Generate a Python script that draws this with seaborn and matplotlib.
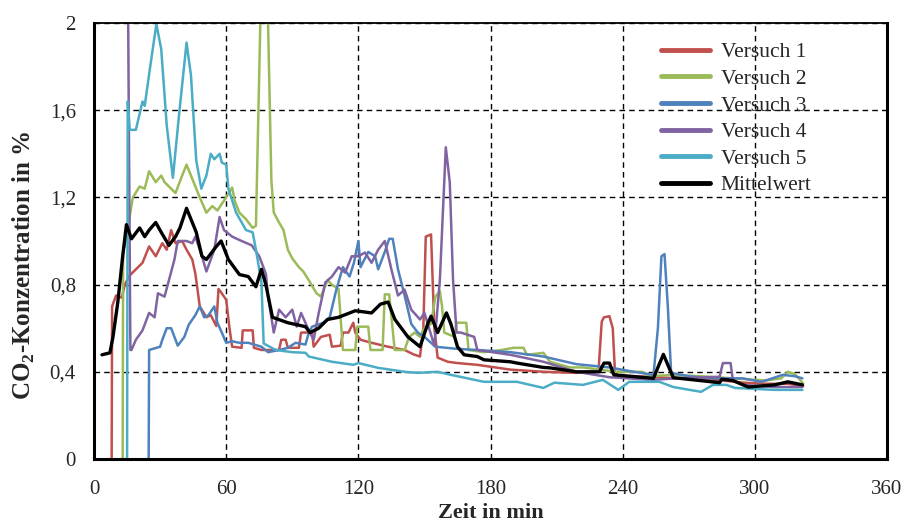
import numpy as np
import pandas as pd
import seaborn as sns
import matplotlib
matplotlib.use('Agg')
import matplotlib.pyplot as plt

# (time in min, CO2 in %)
t1 = [8, 8.2, 10, 12.6, 14, 16, 19, 22, 25, 28, 31, 33, 35, 37, 40, 42, 44.6, 46, 48, 51, 53, 55.5, 56.5, 58, 60,
      61.5, 62.7, 67, 67.5, 72, 72.6, 76, 80, 84, 85, 87, 88, 93, 94, 99, 99.7, 103, 107, 108, 112, 113, 115.5,
      117.7, 118.6, 121, 126, 133.5, 141, 145, 148, 149.5, 150.6, 153, 154.5, 156, 160.6, 165, 174, 189, 204, 219,
      229, 230.5, 231.5, 234, 235.5, 236.5, 238, 245, 255, 265, 275, 285, 295, 305, 315, 322]
v1 = [0.0, 0.70, 0.75, 0.74, 0.80, 0.84, 0.87, 0.90, 0.975, 0.93, 0.99, 0.96, 1.05, 0.99, 1.0, 0.96, 0.915, 0.85,
      0.70, 0.65, 0.66, 0.61, 0.78, 0.76, 0.73, 0.60, 0.515, 0.51, 0.59, 0.59, 0.51, 0.50, 0.50, 0.50, 0.547, 0.547,
      0.51, 0.51, 0.58, 0.58, 0.515, 0.56, 0.57, 0.515, 0.52, 0.58, 0.58, 0.625, 0.58, 0.547, 0.533, 0.515, 0.50,
      0.48, 0.47, 0.60, 1.02, 1.03, 0.60, 0.465, 0.446, 0.44, 0.432, 0.41, 0.40, 0.395, 0.40, 0.63, 0.65, 0.655,
      0.60, 0.40, 0.38, 0.38, 0.375, 0.37, 0.37, 0.36, 0.35, 0.345, 0.345, 0.335]

t2 = [13, 13.2, 14, 16, 17.6, 20.7, 23, 25, 28, 30.5, 32, 34, 37, 40, 42, 44, 46, 48, 51, 53.7, 56, 58, 60, 62.7,
      64, 66, 69, 72, 73.5, 75.5, 76.5, 78, 79, 80.5, 81.6, 84, 86, 88, 90, 93, 95, 97.5, 101, 103, 106, 108, 111,
      112, 113, 118.6, 119.5, 124.5, 125.5, 131, 132, 134, 136.5, 141, 143, 145.6, 148, 150, 153, 155, 157, 158,
      159, 163.7, 164.5, 169, 170, 177, 185, 190.5, 195, 196.5, 204, 207, 216, 222, 237, 249, 252, 262, 275, 290,
      305, 312, 315, 318, 320, 322]
v2 = [0.0, 0.95, 0.98, 1.10, 1.20, 1.25, 1.24, 1.32, 1.27, 1.30, 1.27, 1.25, 1.22, 1.30, 1.35, 1.30, 1.25, 1.20,
      1.13, 1.16, 1.14, 1.17, 1.20, 1.245, 1.18, 1.13, 1.10, 1.06, 1.07, 2.0, 2.15, 2.15, 2.0, 1.28, 1.13, 1.085,
      1.05, 0.96, 0.92, 0.88, 0.86, 0.82, 0.76, 0.745, 0.82, 0.80, 0.78, 0.64, 0.50, 0.50, 0.607, 0.607, 0.50, 0.50,
      0.755, 0.755, 0.50, 0.50, 0.56, 0.58, 0.56, 0.60, 0.62, 0.745, 0.77, 0.70, 0.58, 0.56, 0.625, 0.625, 0.50,
      0.49, 0.50, 0.51, 0.51, 0.478, 0.487, 0.446, 0.42, 0.42, 0.40, 0.40, 0.38, 0.385, 0.38, 0.37, 0.36, 0.37,
      0.40, 0.39, 0.37, 0.345]

t3 = [24.8, 25, 30, 31, 33, 35, 36.5, 38, 41, 43, 46, 48, 50, 52, 54.6, 56, 58, 60, 62.7, 66, 70, 76, 79, 84, 88,
      91.5, 96, 97.5, 99, 104, 107, 110, 113, 116, 118, 120, 121, 124.5, 127.6, 129, 132, 134, 135.6, 138, 141,
      144, 147, 150, 155, 165, 174, 189, 204, 219, 234, 245, 254, 256, 257.6, 259, 260.5, 262, 270, 279, 294.5,
      303, 308, 312.6, 318, 321.6]
v3 = [0.0, 0.50, 0.515, 0.547, 0.60, 0.60, 0.56, 0.52, 0.56, 0.616, 0.66, 0.70, 0.65, 0.66, 0.70, 0.625, 0.58,
      0.533, 0.54, 0.533, 0.533, 0.515, 0.49, 0.50, 0.51, 0.533, 0.525, 0.58, 0.607, 0.625, 0.65, 0.777, 0.88,
      0.837, 0.90, 1.0, 0.88, 0.95, 0.93, 0.87, 0.95, 1.01, 1.01, 0.87, 0.75, 0.62, 0.58, 0.56, 0.515, 0.505, 0.50,
      0.49, 0.47, 0.435, 0.42, 0.40, 0.386, 0.60, 0.93, 0.94, 0.70, 0.395, 0.38, 0.37, 0.37, 0.354, 0.37, 0.386,
      0.38, 0.37]

t4 = [15.3, 16.5, 17, 19, 22, 25, 27.5, 29, 32, 34, 36.5, 38, 42, 44.6, 46, 49, 51, 54.6, 57, 59, 62.7, 67, 71.6,
      75, 78, 79, 81.6, 84, 87, 90, 92, 94, 97.5, 99.7, 102, 105, 108, 111, 114, 117, 120, 123, 126, 129, 132, 135,
      138, 141, 144, 148, 150, 154.5, 157, 159.7, 161.5, 163, 164.6, 166.5, 172.6, 174, 189, 204, 219, 234, 254,
      264, 284, 285.5, 289, 290, 294.5, 309, 321.6]
v4 = [2.3, 0.50, 0.50, 0.547, 0.59, 0.67, 0.65, 0.76, 0.745, 0.82, 0.915, 1.0, 1.0, 0.99, 1.02, 0.93, 0.86, 0.96,
      1.11, 1.05, 1.02, 1.0, 0.98, 0.93, 0.85, 0.745, 0.58, 0.685, 0.65, 0.685, 0.607, 0.67, 0.59, 0.547, 0.67,
      0.81, 0.837, 0.88, 0.855, 0.93, 0.93, 0.947, 0.90, 0.96, 1.0, 0.87, 0.75, 0.777, 0.685, 0.64, 0.67, 0.52,
      0.82, 1.43, 1.27, 0.82, 0.58, 0.58, 0.56, 0.50, 0.478, 0.446, 0.40, 0.375, 0.363, 0.37, 0.377, 0.44, 0.44,
      0.363, 0.34, 0.33, 0.33]

t5 = [15, 15.3, 16.2, 19, 22, 23, 25.5, 28.3, 30.5, 33, 35.8, 38.8, 42, 44, 46.4, 48.7, 51, 53, 54.6, 57, 58, 60,
      61, 64.5, 69, 72, 73.5, 76, 77, 82.5, 90, 96, 97.5, 108, 117.7, 120, 129, 141, 147, 156, 162, 177, 192, 204,
      209, 222, 231, 238, 243, 256.7, 263, 275.6, 281, 287, 291, 309, 321.6]
v5 = [0.0, 1.64, 1.51, 1.51, 1.64, 1.62, 1.80, 1.995, 1.88, 1.53, 1.29, 1.60, 1.91, 1.76, 1.37, 1.24, 1.30, 1.40,
      1.375, 1.40, 1.36, 1.35, 1.24, 1.13, 1.05, 1.04, 0.96, 0.81, 0.53, 0.50, 0.49, 0.487, 0.47, 0.446, 0.432,
      0.44, 0.418, 0.40, 0.395, 0.40, 0.386, 0.354, 0.354, 0.326, 0.35, 0.34, 0.363, 0.317, 0.354, 0.354, 0.33,
      0.308, 0.34, 0.34, 0.326, 0.317, 0.317]

tm = [3.6, 7.2, 8.6, 10.8, 13, 14.7, 17, 20.7, 23, 25, 28, 30.5, 34, 37, 39, 42, 44, 46.4, 49, 51, 55.5, 57.7, 61,
      66, 70, 73.5, 76, 78, 81, 88, 96, 98, 102, 106, 111, 118.6, 126, 130, 133.5, 136.6, 142.5, 148, 151.5, 153,
      156, 160, 162, 165, 168, 174, 177, 189, 192, 204, 207, 219, 229.5, 231.5, 234, 236, 254, 256, 258.5, 261,
      263, 284, 285, 290, 297, 309, 315, 321.6]
vm = [0.478, 0.487, 0.56, 0.72, 0.93, 1.075, 1.01, 1.06, 1.02, 1.05, 1.085, 1.04, 0.98, 1.02, 1.06, 1.15, 1.10,
      1.04, 0.93, 0.915, 0.975, 1.0, 0.915, 0.846, 0.837, 0.79, 0.87, 0.80, 0.65, 0.625, 0.607, 0.58, 0.60, 0.64,
      0.65, 0.68, 0.67, 0.71, 0.72, 0.64, 0.56, 0.515, 0.62, 0.655, 0.58, 0.67, 0.62, 0.515, 0.478, 0.47, 0.455,
      0.446, 0.44, 0.42, 0.418, 0.40, 0.40, 0.44, 0.44, 0.386, 0.37, 0.42, 0.48, 0.42, 0.373, 0.35, 0.366, 0.36,
      0.33, 0.34, 0.354, 0.34]

labels = ['Versuch 1', 'Versuch 2', 'Versuch 3', 'Versuch 4', 'Versuch 5', 'Mittelwert']
colors = ['#c0504d', '#9bbb59', '#4f81bd', '#8064a2', '#4bacc6', '#000000']
x_ticks = [0, 60, 120, 180, 240, 300, 360]
y_ticks = [0, 0.4, 0.8, 1.2, 1.6, 2.0]
y_ticklabels = ['0', '0,4', '0,8', '1,2', '1,6', '2']

sns.set_style('white')
plt.rcParams['font.family'] = ['Liberation Serif', 'DejaVu Serif']
plt.rcParams['mathtext.fontset'] = 'custom'
plt.rcParams['mathtext.rm'] = 'Liberation Serif'
plt.rcParams['mathtext.bf'] = 'Liberation Serif:bold'

fig = plt.figure(figsize=(9.06, 5.23), dpi=100)
ax = fig.add_axes([0.1038, 0.1224, 0.8752, 0.8336])

series = [(t1, v1), (t2, v2), (t3, v3), (t4, v4), (t5, v5), (tm, vm)]
for (t, v), lab, col in zip(series, labels, colors):
    df = pd.DataFrame({'t': t, 'v': v})
    lw = 2.4 if lab == 'Mittelwert' else 1.8
    sns.lineplot(data=df, x='t', y='v', ax=ax, estimator=None, sort=False,
                 color=col, lw=lw, label=lab)

ax.set_xlim(0, 360)
ax.set_ylim(0, 2)
ax.set_xticks(x_ticks)
ax.set_yticks(y_ticks)
ax.set_yticklabels(y_ticklabels)
ax.tick_params(labelsize=15, length=0, pad=13)
ax.tick_params(axis='x', pad=15)
ax.grid(True, color='black', linestyle=(0, (4, 3)), linewidth=1.0)
for s in ['left', 'bottom', 'right']:
    ax.spines[s].set_linewidth(2.2)
    ax.spines[s].set_color('black')
ax.spines['top'].set_linewidth(1.3)
ax.spines['top'].set_color('black')

ax.set_xlabel('Zeit in min', fontsize=16, fontweight='bold', labelpad=3)
ax.set_ylabel(r'CO$_\mathbf{2}$-Konzentration in %', fontsize=18, fontweight='bold')
ax.yaxis.set_label_coords(-0.072, 0.443)

leg = ax.legend(loc='upper left', bbox_to_anchor=(0.69, 1.0), frameon=False, fontsize=15.5,
                handlelength=2.3, labelspacing=0.3, handletextpad=0.5)
for line in leg.get_lines():
    line.set_linewidth(3.5)

fig.savefig('out.png', dpi=100)
